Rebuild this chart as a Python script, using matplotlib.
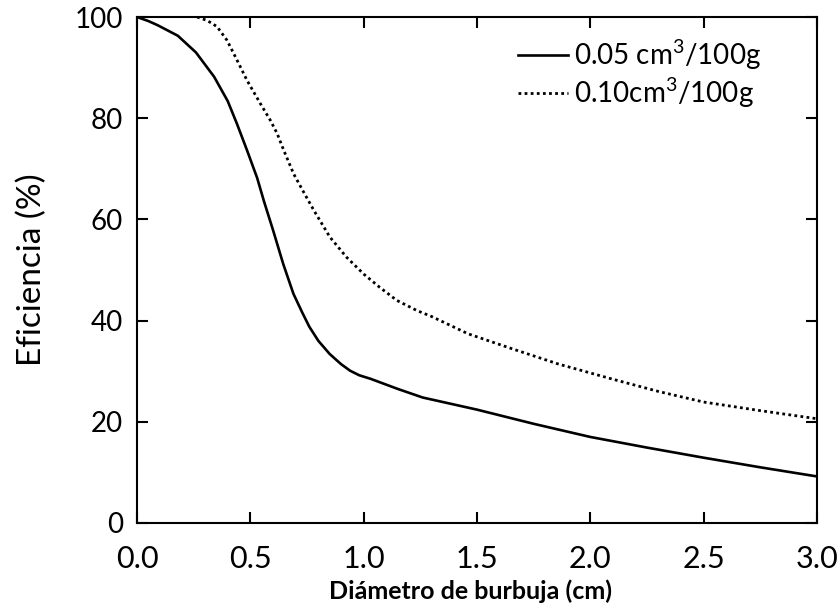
import matplotlib
matplotlib.use("Agg")
import matplotlib.pyplot as plt

plt.rcParams["font.family"] = ["Lato", "DejaVu Sans"]
plt.rcParams["mathtext.fontset"] = "custom"
plt.rcParams["mathtext.rm"] = "Lato"

# 0.05 cm3/100g (linea continua)
x_005 = [0.00, 0.05, 0.09, 0.18, 0.26, 0.34, 0.40, 0.44, 0.485, 0.53, 0.56, 0.60,
         0.645, 0.69, 0.73, 0.76, 0.80, 0.85, 0.90, 0.94, 0.98, 1.03, 1.15, 1.26,
         1.50, 1.75, 2.00, 2.25, 2.50, 2.75, 3.00]
y_005 = [100.0, 99.2, 98.4, 96.3, 93.0, 88.2, 83.4, 79.0, 73.7, 68.2, 63.6, 57.9,
         51.2, 45.3, 41.5, 38.8, 36.0, 33.4, 31.4, 30.1, 29.2, 28.5, 26.5, 24.8,
         22.4, 19.6, 17.0, 14.9, 12.9, 11.0, 9.2]

# 0.10 cm3/100g (linea punteada)
x_010 = [0.265, 0.31, 0.353, 0.397, 0.441, 0.485, 0.544, 0.588, 0.618, 0.647, 0.691,
         0.735, 0.78, 0.851, 0.925, 1.00, 1.07, 1.146, 1.234, 1.30, 1.46, 1.65,
         1.86, 2.10, 2.30, 2.50, 2.75, 3.00]
y_010 = [100.0, 99.3, 98.1, 95.4, 91.5, 87.5, 82.9, 79.6, 77.0, 73.7, 69.0,
         65.4, 61.8, 56.5, 52.5, 49.2, 46.6, 44.0, 42.0, 40.8, 37.4, 34.5,
         31.4, 28.4, 26.0, 23.9, 22.2, 20.6]

labels = ["0.05 cm$^{3}$/100g", "0.10cm$^{3}$/100g"]
x_ticks = [0.0, 0.5, 1.0, 1.5, 2.0, 2.5, 3.0]
y_ticks = [0, 20, 40, 60, 80, 100]

fig = plt.figure(figsize=(8.39, 6.03), dpi=100)
ax = fig.add_axes([0.1633, 0.1327, 0.8105, 0.8391])

ax.plot(x_005, y_005, color="black", linewidth=1.9, label=labels[0])
ax.plot(x_010, y_010, color="black", linewidth=2.0, linestyle=(0, (1, 1.2)), label=labels[1])

ax.set_xlim(0, 3)
ax.set_ylim(0, 100)
ax.set_xticks(x_ticks)
ax.set_xticklabels([f"{v:.1f}" for v in x_ticks])
ax.set_yticks(y_ticks)

for s in ax.spines.values():
    s.set_linewidth(1.5)
ax.tick_params(direction="in", length=8, width=1.5, top=True, right=True)
ax.tick_params(axis="y", labelsize=20, pad=10)
ax.tick_params(axis="x", labelsize=22, pad=16)

ax.set_ylabel("Eficiencia (%)", fontsize=24)
ax.yaxis.set_label_coords(-0.132, 0.5)
ax.set_xlabel("Diámetro de burbuja (cm)", fontsize=18, fontweight="bold")
ax.xaxis.set_label_coords(0.491, -0.112)

ax.legend(loc="upper left", bbox_to_anchor=(518 / 839, 1 - 37 / 603),
          bbox_transform=fig.transFigure, frameon=False, fontsize=20,
          handlelength=1.8, handletextpad=0.2, labelspacing=0.12, borderpad=0,
          borderaxespad=0)

fig.savefig("out.png", dpi=100)
